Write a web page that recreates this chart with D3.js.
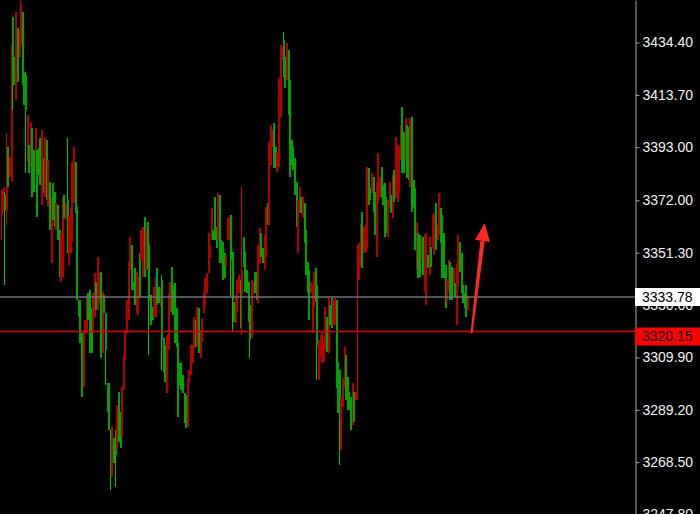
<!DOCTYPE html>
<html><head><meta charset="utf-8">
<script src="https://cdn.jsdelivr.net/npm/d3@7"></script>
<style>html,body{margin:0;padding:0;background:#000;overflow:hidden}svg{display:block}</style>
</head><body>
<svg id="chart" width="700" height="514"></svg>
<script>
// ---- data (red = rising candle, green = falling candle) ----
const opens = [
3366.2,3367.4,3374.1,3368.2,3393.1,3381.2,3379.2,3444.5,3428.7,3411.7,
3440.1,3428.7,3433.4,3446.4,3422.4,3421.6,3387.2,3393.9,3385.2,3400.6,
3391.9,3383.2,3391.9,3392.7,3396.6,3370.2,3388.7,3373.3,3395.9,3369.4,
3379.2,3347.2,3378.9,3375.3,3360.3,3370.2,3360.3,3339.7,3341.7,3374.1,
3364.2,3372.1,3346.4,3351.2,3355.5,3371.0,3387.2,3369.4,3332.6,3332.6,
3319.6,3298.2,3319.6,3319.6,3335.4,3336.6,3329.4,3319.6,3325.9,3339.7,
3328.7,3331.4,3343.7,3311.7,3334.6,3327.5,3299.8,3299.8,3277.3,3262.6,
3278.1,3281.2,3273.3,3296.2,3288.3,3278.5,3297.0,3308.9,3319.6,3324.7,
3344.5,3354.4,3339.7,3345.3,3327.5,3326.7,3351.2,3348.4,3341.7,3365.4,
3344.5,3363.4,3354.4,3334.6,3329.8,3325.9,3325.9,3345.3,3337.7,3329.8,
3340.5,3317.6,3314.8,3295.8,3312.8,3327.9,3345.7,3338.5,3339.3,3329.4,
3315.6,3307.7,3307.7,3303.0,3295.8,3295.1,3282.4,3299.8,3303.0,3307.7,
3313.6,3324.7,3314.0,3329.4,3309.7,3316.0,3327.5,3330.6,3335.4,3343.3,
3349.2,3356.3,3360.3,3373.3,3361.5,3356.3,3374.1,3356.3,3355.5,3351.2,
3345.7,3356.3,3356.3,3366.2,3351.6,3331.8,3323.5,3327.9,3335.4,3340.5,
3334.6,3357.5,3351.6,3344.5,3339.7,3330.6,3317.6,3334.6,3343.7,3343.7,
3331.4,3347.2,3359.1,3353.2,3344.5,3349.6,3371.0,3362.3,3386.0,3393.1,
3402.6,3393.1,3383.2,3385.2,3405.0,3427.5,3435.4,3428.7,3419.6,3431.4,
3419.6,3395.9,3393.1,3388.7,3379.2,3351.2,3367.0,3373.3,3365.0,3371.0,
3360.3,3347.6,3344.5,3335.4,3319.6,3329.8,3345.3,3338.5,3301.0,3310.1,
3307.7,3308.1,3312.8,3325.9,3311.7,3330.6,3333.4,3322.7,3322.7,3332.6,
3308.1,3304.9,3273.3,3290.3,3297.8,3310.9,3302.2,3296.2,3294.3,3283.2,
3296.2,3293.1,3349.2,3340.5,3345.7,3367.4,3351.2,3351.6,3353.2,3384.8,
3376.9,3374.9,3381.2,3375.3,3349.6,3371.0,3373.3,3385.2,3378.1,3378.9,
3373.3,3357.5,3369.4,3374.1,3365.0,3384.0,3372.9,3371.3,3374.9,3388.0,
3408.9,3399.0,3388.0,3401.8,3401.0,3377.3,3405.0,3380.0,3376.9,3344.5,
3359.1,3358.3,3348.4,3357.5,3335.8,3330.6,3350.4,3342.5,3353.6,3353.2,
3350.4,3371.0,3356.3,3358.3,3369.0,3366.2,3359.1,3346.4,3331.8,3335.8,
3347.6,3345.7,3337.7,3339.3,3322.7,3337.7,3355.5,3351.2,3338.5,3335.4,
3338.5,3328.7];
const highs = [
3376.1,3377.3,3375.3,3398.6,3393.1,3389.1,3433.4,3444.5,3428.7,3446.4,
3440.1,3439.3,3452.5,3446.4,3422.4,3422.7,3405.7,3393.9,3403.0,3400.6,
3391.9,3400.6,3391.9,3392.7,3396.6,3399.8,3388.7,3396.6,3395.9,3388.0,
3379.2,3373.3,3378.9,3375.3,3371.0,3370.2,3360.3,3359.1,3373.3,3374.1,
3371.0,3396.6,3365.4,3369.0,3387.2,3393.1,3387.2,3369.4,3332.6,3332.6,
3319.6,3320.8,3324.7,3334.6,3335.4,3336.6,3329.4,3335.4,3343.3,3339.7,
3349.6,3343.3,3343.7,3335.8,3334.6,3327.5,3299.8,3299.8,3281.2,3282.4,
3278.1,3281.2,3291.1,3296.2,3288.3,3298.2,3310.9,3320.8,3332.6,3347.6,
3357.5,3354.4,3339.7,3345.3,3343.7,3341.7,3351.2,3360.3,3361.5,3365.4,
3360.3,3363.4,3355.2,3334.6,3329.8,3337.7,3341.7,3345.3,3337.7,3337.4,
3342.5,3317.6,3314.8,3318.8,3335.4,3339.7,3345.7,3338.5,3339.3,3329.4,
3315.6,3307.7,3307.7,3303.0,3295.8,3295.1,3301.8,3304.9,3314.8,3314.8,
3325.9,3324.7,3329.8,3329.4,3320.8,3325.5,3335.8,3341.3,3343.3,3359.1,
3354.4,3369.0,3360.3,3373.3,3361.5,3374.9,3374.1,3356.3,3355.5,3351.2,
3350.4,3365.0,3365.4,3366.2,3351.6,3331.8,3334.6,3340.5,3342.5,3340.5,
3377.3,3357.5,3351.6,3344.5,3339.7,3330.6,3340.5,3339.7,3343.7,3343.7,
3354.4,3361.1,3359.1,3353.2,3358.3,3369.4,3371.0,3395.1,3401.8,3399.8,
3402.6,3393.1,3391.1,3420.4,3433.4,3432.6,3438.6,3428.7,3434.2,3431.4,
3419.6,3395.9,3393.1,3388.7,3379.2,3372.1,3377.3,3373.3,3373.3,3371.0,
3360.3,3347.6,3344.5,3339.7,3338.5,3343.7,3345.3,3338.5,3316.8,3318.8,
3320.0,3315.6,3329.8,3325.9,3333.8,3330.6,3333.4,3332.6,3333.4,3332.6,
3308.1,3304.9,3293.9,3301.8,3314.0,3310.9,3302.2,3296.2,3294.3,3299.8,
3296.2,3296.2,3354.4,3355.2,3363.0,3367.4,3361.5,3362.3,3385.2,3384.8,
3376.9,3382.8,3381.2,3375.3,3379.2,3390.7,3381.2,3385.2,3378.1,3378.9,
3373.3,3372.1,3379.2,3374.1,3382.0,3384.0,3397.0,3393.9,3393.1,3401.8,
3408.9,3399.0,3404.6,3401.8,3401.0,3404.6,3405.0,3380.0,3376.9,3363.4,
3359.1,3358.3,3357.1,3357.5,3358.3,3359.1,3350.4,3357.5,3353.6,3366.2,
3367.0,3371.0,3362.3,3374.9,3369.0,3366.2,3359.1,3346.4,3340.5,3348.4,
3347.6,3345.7,3345.3,3339.3,3347.2,3358.3,3355.5,3351.2,3338.5,3335.4,
3338.5,3334.6];
const lows = [
3356.3,3367.4,3338.5,3362.3,3377.3,3381.2,3379.2,3407.7,3417.6,3411.7,
3418.8,3428.7,3433.4,3417.6,3409.7,3382.8,3387.2,3382.8,3385.2,3373.3,
3375.3,3383.2,3365.4,3382.0,3378.1,3370.2,3374.9,3373.3,3372.1,3369.4,
3360.3,3347.2,3364.2,3361.5,3360.3,3356.3,3341.7,3339.7,3341.7,3365.0,
3364.2,3351.2,3346.4,3351.2,3355.5,3371.0,3367.0,3332.6,3325.9,3315.6,
3294.3,3298.2,3319.6,3319.6,3324.7,3311.7,3311.7,3319.6,3325.9,3328.7,
3328.7,3331.4,3309.7,3311.7,3327.5,3299.0,3288.3,3281.2,3257.5,3262.6,
3268.2,3258.7,3273.3,3276.5,3274.1,3278.5,3297.0,3308.9,3319.6,3324.7,
3344.5,3336.6,3336.6,3330.6,3327.5,3326.7,3333.8,3348.4,3341.7,3341.7,
3344.5,3344.5,3310.9,3322.7,3324.7,3325.9,3325.9,3330.6,3331.4,3329.8,
3304.9,3304.1,3300.2,3295.8,3312.8,3327.9,3327.9,3326.7,3315.6,3314.0,
3286.4,3299.0,3297.0,3295.8,3284.0,3282.0,3282.4,3299.8,3303.0,3307.7,
3313.6,3314.0,3314.0,3311.7,3309.7,3316.0,3327.5,3330.6,3335.4,3343.3,
3349.2,3356.3,3356.3,3356.3,3353.2,3356.3,3347.2,3347.2,3340.5,3341.3,
3345.7,3356.3,3356.3,3333.8,3320.0,3323.9,3323.5,3327.9,3335.4,3321.5,
3318.8,3345.7,3335.8,3335.4,3323.9,3309.7,3317.6,3334.6,3335.4,3332.6,
3331.4,3347.2,3349.6,3347.2,3344.5,3349.6,3362.3,3362.3,3386.0,3393.1,
3384.8,3384.8,3383.2,3385.2,3405.0,3427.5,3420.8,3416.4,3419.6,3405.7,
3381.2,3386.0,3384.0,3374.1,3361.5,3351.2,3367.0,3367.0,3365.0,3355.2,
3342.5,3335.8,3324.7,3335.4,3319.6,3329.8,3331.8,3301.0,3301.0,3310.1,
3307.7,3308.1,3312.8,3312.1,3311.7,3322.7,3321.5,3322.7,3322.7,3297.8,
3287.9,3267.4,3273.3,3290.3,3297.8,3293.1,3289.1,3289.1,3281.2,3283.2,
3284.4,3293.1,3293.1,3340.5,3345.7,3345.3,3351.2,3351.6,3353.2,3370.2,
3372.1,3374.9,3367.4,3358.3,3349.6,3371.0,3373.3,3372.9,3370.2,3357.5,
3359.1,3357.5,3369.4,3367.0,3365.0,3371.3,3372.9,3371.3,3374.9,3388.0,
3382.8,3382.8,3388.0,3380.8,3380.0,3377.3,3367.4,3369.4,3352.4,3344.5,
3341.3,3341.7,3348.4,3342.5,3335.8,3330.6,3345.3,3342.5,3345.7,3353.2,
3350.4,3352.4,3356.3,3358.3,3355.2,3341.3,3341.3,3329.4,3331.8,3335.8,
3332.6,3332.6,3337.7,3333.8,3322.7,3337.7,3343.7,3335.4,3331.4,3329.4,
3325.9,3328.7];
const closes = [
3376.1,3377.3,3368.2,3391.9,3377.3,3389.1,3433.4,3417.6,3417.6,3446.4,
3418.8,3439.3,3449.2,3417.6,3409.7,3407.7,3405.7,3382.8,3403.0,3373.3,
3375.3,3400.6,3365.4,3382.0,3378.1,3399.8,3374.9,3396.6,3372.1,3388.0,
3360.3,3373.3,3364.2,3361.5,3371.0,3356.3,3341.7,3359.1,3373.3,3365.0,
3371.0,3352.4,3365.4,3369.0,3387.2,3393.1,3367.0,3332.6,3325.9,3315.6,
3294.3,3320.8,3324.7,3334.6,3324.7,3311.7,3311.7,3335.4,3343.3,3328.7,
3349.6,3343.3,3309.7,3335.8,3327.5,3312.8,3288.3,3281.2,3263.4,3282.4,
3268.2,3271.3,3291.1,3276.5,3274.1,3298.2,3310.9,3320.8,3332.6,3347.6,
3357.5,3336.6,3336.6,3330.6,3343.7,3341.7,3333.8,3360.3,3361.5,3341.7,
3360.3,3344.5,3332.6,3322.7,3324.7,3337.7,3341.7,3330.6,3331.4,3337.4,
3316.8,3304.1,3300.2,3318.8,3335.4,3339.7,3327.9,3326.7,3315.6,3314.0,
3286.4,3299.0,3297.0,3295.8,3284.0,3282.0,3301.8,3304.9,3314.8,3314.8,
3325.9,3314.0,3329.8,3311.7,3320.8,3325.5,3335.8,3341.3,3343.3,3359.1,
3354.4,3369.0,3356.3,3356.3,3353.2,3374.9,3347.2,3347.2,3340.5,3341.3,
3350.4,3365.0,3365.4,3348.4,3332.6,3323.9,3334.6,3340.5,3342.5,3321.5,
3344.5,3345.7,3335.8,3335.4,3323.9,3316.8,3340.5,3339.7,3335.4,3332.6,
3354.4,3361.1,3349.6,3347.2,3358.3,3369.4,3362.3,3395.1,3401.8,3399.8,
3384.8,3384.8,3391.1,3420.4,3433.4,3432.6,3420.8,3416.4,3434.2,3405.7,
3381.2,3386.0,3384.0,3374.1,3361.5,3372.1,3377.3,3367.0,3373.3,3355.2,
3342.5,3335.8,3324.7,3339.7,3338.5,3343.7,3331.8,3314.8,3316.8,3318.8,
3320.0,3315.6,3329.8,3312.1,3333.8,3322.7,3321.5,3332.6,3333.4,3297.8,
3287.9,3285.2,3293.9,3301.8,3314.0,3293.1,3289.1,3289.1,3281.2,3299.8,
3284.4,3296.2,3353.2,3355.2,3363.0,3345.3,3361.5,3362.3,3385.2,3370.2,
3372.1,3382.8,3367.4,3358.3,3379.2,3390.7,3381.2,3372.9,3370.2,3357.5,
3359.1,3372.1,3379.2,3367.0,3382.0,3371.3,3397.0,3393.9,3393.1,3401.8,
3382.8,3382.8,3404.6,3380.8,3380.0,3404.6,3367.4,3369.4,3352.4,3363.4,
3341.3,3341.7,3357.1,3342.5,3358.3,3359.1,3345.3,3357.5,3345.7,3366.2,
3367.0,3352.4,3362.3,3374.9,3355.2,3341.3,3341.3,3329.4,3340.5,3348.4,
3332.6,3332.6,3345.3,3333.8,3347.2,3358.3,3343.7,3335.4,3331.4,3329.4,
3325.9,3333.78];

const priceTicks = [3434.40, 3413.70, 3393.00, 3372.00, 3351.30, 3330.60, 3309.90, 3289.20, 3268.50, 3247.80];
const bidPrice = 3333.78;      // grey current-price line
const levelPrice = 3320.15;    // red horizontal line
const arrowTail = [293.8, 3319.4];   // [bar index, price]
const arrowTip  = [302.0, 3363.0];

// ---- drawing ----
const W = 700, H = 514, axisX = 635;
const svg = d3.select("#chart");
svg.append("rect").attr("width", W).attr("height", H).attr("fill", "#000");

const N = opens.length;
const x = d3.scaleLinear().domain([0, N - 1]).range([1, 467]);
const y = d3.scaleLinear().domain([3248.0, 3451.2]).range([H, 0]);

const C = {
  upBody: "#b40000", upWick: "#d40000",
  dnBody: "#00a400", dnWick: "#00c800"
};

const g = svg.append("g").attr("shape-rendering", "crispEdges");
const idx = d3.range(N);
const cg = g.selectAll("g.c").data(idx).join("g").attr("class", "c");
cg.append("rect")
  .attr("x", i => Math.round(x(i)))
  .attr("y", i => y(highs[i]))
  .attr("width", 1)
  .attr("height", i => Math.max(1, y(lows[i]) - y(highs[i])))
  .attr("fill", i => closes[i] > opens[i] ? C.upWick : C.dnWick);
cg.append("rect")
  .attr("x", i => Math.round(x(i)))
  .attr("y", i => y(Math.max(opens[i], closes[i])))
  .attr("width", 2)
  .attr("height", i => Math.max(1, Math.abs(y(opens[i]) - y(closes[i]))))
  .attr("fill", i => closes[i] > opens[i] ? C.upBody : C.dnBody);

// horizontal lines
svg.append("line").attr("x1", 0).attr("x2", axisX)
  .attr("y1", y(bidPrice)).attr("y2", y(bidPrice))
  .attr("stroke", "#6c737b").attr("stroke-width", 1.6);
svg.append("line").attr("x1", 0).attr("x2", axisX)
  .attr("y1", y(levelPrice)).attr("y2", y(levelPrice))
  .attr("stroke", "#d80000").attr("stroke-width", 1.4);

// axis
const axis = d3.axisRight(y).tickValues(priceTicks).tickSize(4).tickSizeOuter(0)
  .tickFormat(d => d.toFixed(2));
const ag = svg.append("g").attr("transform", `translate(${axisX + 0.5},0)`).call(axis);
ag.select(".domain").attr("stroke", "#a8a8a8");
ag.selectAll(".tick line").attr("stroke", "#a8a8a8");
ag.selectAll(".tick text").attr("fill", "#f2f2f2")
  .attr("font-family", "'Liberation Sans', Arial, sans-serif").attr("font-size", 14).attr("x", 7);

// price boxes
function priceBox(price, top, h, fill, label) {
  svg.append("rect").attr("x", axisX).attr("y", top).attr("width", W - axisX).attr("height", h).attr("fill", fill);
  svg.append("text").attr("x", axisX + 7).attr("y", top + h / 2).attr("dy", "0.35em")
    .attr("font-family", "'Liberation Sans', Arial, sans-serif").attr("font-size", 14)
    .attr("fill", "#000").text(label);
}
priceBox(bidPrice, y(bidPrice) - 9, 18, "#ffffff", bidPrice.toFixed(2));
priceBox(levelPrice, y(levelPrice) - 4, 18, "#ff0000", levelPrice.toFixed(2));

// red arrow annotation
const tx = x(arrowTail[0]), ty = y(arrowTail[1]);
const hx = x(arrowTip[0]), hy = y(arrowTip[1]);
const ang = Math.atan2(hy - ty, hx - tx);
const ux = Math.cos(ang), uy = Math.sin(ang), px = -uy, py = ux;
const headLen = 18, headW = 7.5;
const bx = hx - ux * headLen, by = hy - uy * headLen;
const shaft = [[tx + px * 1, ty + py * 1], [bx + px * 2.2, by + py * 2.2], [bx - px * 2.2, by - py * 2.2], [tx - px * 1, ty - py * 1]];
const head = [[hx, hy], [bx + px * headW, by + py * headW], [bx - px * headW, by - py * headW]];
svg.append("path").attr("d", d3.line()(shaft) + "Z").attr("fill", "#ff2a1f");
svg.append("path").attr("d", d3.line()(head) + "Z").attr("fill", "#ff2a1f");
</script>
</body></html>
